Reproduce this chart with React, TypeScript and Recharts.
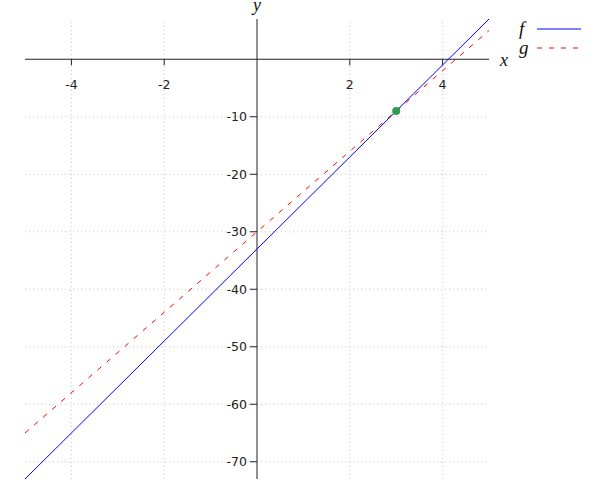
import React from 'react';
import { ComposedChart, Line, XAxis, YAxis, ReferenceLine, ReferenceDot } from 'recharts';

// values: f and g are straight lines over x in [-5, 5]
const xValues = [-5, 5];
const fValues = [-73, 7];
const gValues = [-65, 5];
const pointX = 3;
const pointY = -9;

const xTicks = [-4, -2, 2, 4];
const yTicks = [-10, -20, -30, -40, -50, -60, -70];
const xDomain = [-5, 5];
const yDomain = [-73, 7];

const W = 600;
const H = 500;
const plotLeft = 25;
const plotTop = 19;
const plotW = 464;
const plotH = 460;
const margin = { top: plotTop, right: W - plotLeft - plotW, bottom: H - plotTop - plotH - 1, left: plotLeft - 1 };

// pixel positions of the origin lines, so the ticks sit on the crossing axes
const zeroY = plotTop + ((yDomain[1] - 0) / (yDomain[1] - yDomain[0])) * plotH;
const zeroX = plotLeft + ((0 - xDomain[0]) / (xDomain[1] - xDomain[0])) * plotW;

const data = xValues.map((x, i) => ({ x, f: fValues[i], g: gValues[i] }));

const serif = 'Liberation Serif, DejaVu Serif, serif';
const tickFont = { fontFamily: 'DejaVu Sans', fontSize: 12.5, fill: '#222' };

const XTick = (props: any) => {
  const { x, payload } = props;
  return (
    <g>
      <line x1={x} x2={x} y1={zeroY} y2={zeroY + 6} stroke="#222" />
      <text x={x} y={zeroY + 30} textAnchor="middle" style={tickFont}>{payload.value}</text>
    </g>
  );
};

const YTick = (props: any) => {
  const { y, payload } = props;
  return (
    <g>
      <line x1={zeroX - 7} x2={zeroX} y1={y} y2={y} stroke="#222" />
      <text x={zeroX - 10} y={y + 4.5} textAnchor="end" style={tickFont}>{payload.value}</text>
    </g>
  );
};

const nameStyle = { fontFamily: serif, fontStyle: 'italic', fontSize: 18, fill: '#111' };

const AxisName = (props: any) => {
  const { viewBox, value, side } = props;
  const vb = viewBox || {};
  if (side === 'x') {
    return <text x={vb.x + vb.width + 11} y={vb.y + 7} style={nameStyle}>{value}</text>;
  }
  return <text x={vb.x} y={vb.y - 8} textAnchor="middle" style={nameStyle}>{value}</text>;
};

const LegendBox = () => (
  <div style={{ position: 'absolute', left: 519, top: 19, fontFamily: serif, fontStyle: 'italic', fontSize: 19, color: '#111', lineHeight: '19px' }}>
    <div style={{ display: 'flex', alignItems: 'center', height: 19 }}>
      <span style={{ width: 18 }}>f</span>
      <svg width={45} height={4}><line x1={0} x2={44} y1={2} y2={2} stroke="#0000ff" strokeWidth={1} /></svg>
    </div>
    <div style={{ display: 'flex', alignItems: 'center', height: 19 }}>
      <span style={{ width: 18 }}>g</span>
      <svg width={45} height={4}><line x1={0} x2={44} y1={2} y2={2} stroke="#ff0000" strokeWidth={1} strokeDasharray="5 7" /></svg>
    </div>
  </div>
);

export default function App() {
  return (
    <div style={{ position: 'fixed', left: 0, top: 0, width: W, height: H, background: '#fff' }}>
      <ComposedChart width={W} height={H} data={data} margin={margin}>
        <XAxis type="number" dataKey="x" domain={xDomain} ticks={xTicks} height={1} allowDataOverflow
          axisLine={false} tickLine={false} tick={<XTick />} interval={0} />
        <YAxis type="number" domain={yDomain} ticks={yTicks} width={1} allowDataOverflow
          axisLine={false} tickLine={false} tick={<YTick />} interval={0} />
        {xTicks.map((t) => (
          <ReferenceLine key={'gx' + t} x={t} stroke="#c8c8c8" strokeDasharray="1 3" />
        ))}
        {yTicks.map((t) => (
          <ReferenceLine key={'gy' + t} y={t} stroke="#c8c8c8" strokeDasharray="1 3" />
        ))}
        <ReferenceLine y={0} stroke="#222" label={<AxisName value="x" side="x" />} />
        <ReferenceLine x={0} stroke="#222" label={<AxisName value="y" side="y" />} />
        <Line type="linear" dataKey="g" stroke="#ff0000" strokeWidth={1} strokeDasharray="5 7" dot={false} isAnimationActive={false} />
        <Line type="linear" dataKey="f" stroke="#0000ff" strokeWidth={1} dot={false} isAnimationActive={false} />
        <ReferenceDot x={pointX} y={pointY} r={4} fill="#2e9a52" stroke="none" />
      </ComposedChart>
      <LegendBox />
    </div>
  );
}
